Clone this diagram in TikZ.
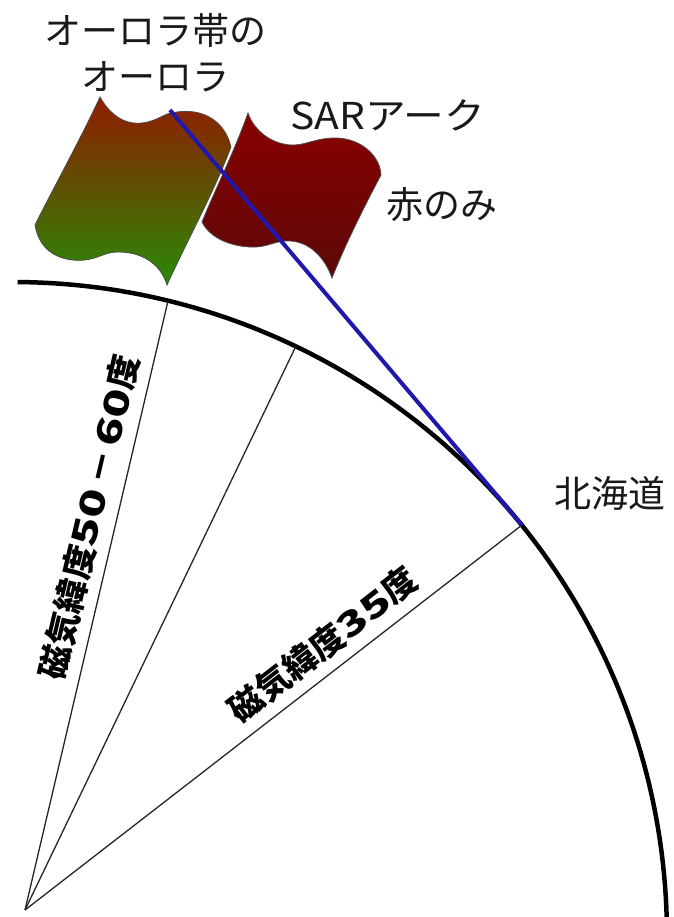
\documentclass[tikz,border=0pt]{standalone}
\usepackage{fontspec}
\newfontfamily\jp{Noto Sans CJK JP}
\definecolor{sightblue}{RGB}{32,24,172}
\definecolor{auroraTop}{RGB}{145,28,0}
\definecolor{auroraMid}{RGB}{108,82,0}
\definecolor{auroraBot}{RGB}{40,138,6}
\definecolor{sarTop}{RGB}{138,0,0}
\definecolor{sarBot}{RGB}{92,8,8}
% wide digits for the latitude labels
\newcommand\wdig[1]{\scalebox{1.4}[1]{#1}}
\tikzset{
  spoke/.style={draw=black!85, line width=1.3pt},
  earth/.style={draw=black, line width=4.5pt},
  sight/.style={draw=sightblue, line width=4pt},
  curtain/.style={draw=black!70, line width=0.8pt},
  lbl/.style={font=\jp\fontsize{37}{46}\selectfont, inner sep=0pt, text=black!90},
  latlbl/.style={font=\jp\bfseries\fontsize{34}{40}\selectfont, inner sep=0pt, sloped, above=10pt},
}
\begin{document}
\begin{tikzpicture}[x=1pt, y=1pt]
  \fill[white] (0,0) rectangle (673,917);
  \useasboundingbox (0,0) rectangle (673,917);

  % points on the ground
  \coordinate (pole) at (25,7);
  \coordinate (p1) at (168,616);
  \coordinate (p2) at (296,571);
  \coordinate (hk) at (522,392);
  \coordinate (sartop) at (170,807);

  % Earth's surface
  \draw[earth] plot[domain=1.5:89.6, samples=90] ({13+654*cos(\x)}, {-19+654*sin(\x)});

  % radii from the centre
  \draw[spoke] (pole) -- node[latlbl, pos=0.635] {磁気緯度\wdig{50}\,－\,\wdig{60}度} (p1);
  \draw[spoke] (pole) -- (p2);
  \draw[spoke] (pole) -- node[latlbl, pos=0.633] {磁気緯度\wdig{35}度} (hk);

  % SAR arc curtain (behind)
  \shade[curtain, top color=sarTop, bottom color=sarBot]
    (248,804) .. controls (253,789) and (268,774) .. (290,772)
    .. controls (305,771) and (315,779) .. (335,779)
    .. controls (360,779) and (380,762) .. (381,742)
    .. controls (365,712) and (345,672) .. (332,639)
    .. controls (325,659) and (310,675) .. (290,676)
    .. controls (275,677) and (268,669) .. (250,670)
    .. controls (230,671) and (210,679) .. (202,695)
    .. controls (215,727) and (235,767) .. (248,804) -- cycle;

  % auroral-zone curtain (front)
  \shade[curtain, top color=auroraTop, middle color=auroraMid, bottom color=auroraBot]
    (100,820) .. controls (110,802) and (125,792) .. (142,794)
    .. controls (158,796) and (165,804) .. (172,804)
    .. controls (197,810) and (224,800) .. (231,770)
    .. controls (215,727) and (185,672) .. (167,632)
    .. controls (160,655) and (140,665) .. (118,665)
    .. controls (105,665) and (100,659) .. (85,657)
    .. controls (65,655) and (40,662) .. (35,692)
    .. controls (55,732) and (80,777) .. (100,820) -- cycle;

  % line of sight from Hokkaido
  \draw[sight] (sartop) -- (hk);

  % labels
  \node[lbl, align=center] (aurora) at (155,864) {オーロラ帯の\\オーロラ};
  \node[lbl, anchor=west] (sar) at (290,802) {\scalebox{1.1}[1]{SARアーク}};
  \node[lbl] (redonly) at (442,712) {赤のみ};
  \node[lbl] (hokkaido) at (610,424) {北海道};
\end{tikzpicture}
\end{document}
